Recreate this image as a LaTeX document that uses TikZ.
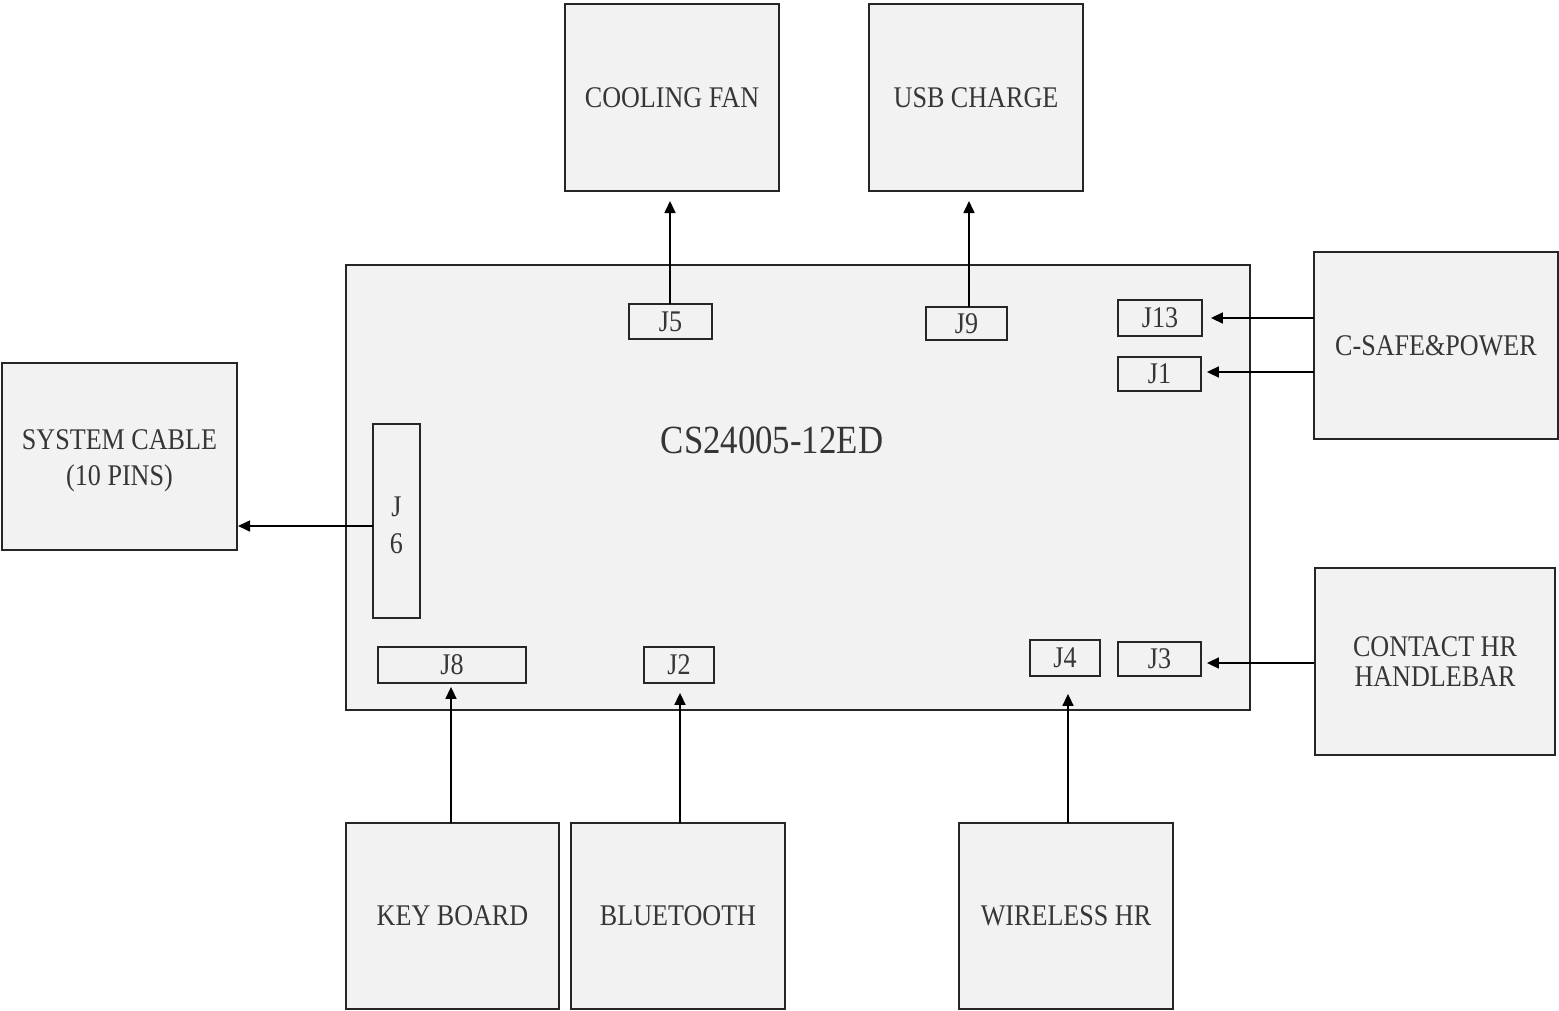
\documentclass[tikz,border=0pt]{standalone}
\usepackage{fontspec}
\setmainfont{Liberation Serif}[FakeStretch=0.87]
\usetikzlibrary{arrows.meta}
\definecolor{boxfill}{HTML}{F2F2F2}
\definecolor{boxline}{HTML}{262626}
\definecolor{txt}{HTML}{363636}
\tikzset{
  box/.style={draw=boxline, fill=boxfill, line width=1pt, inner sep=0pt, text=txt,
    font=\fontsize{15}{18}\selectfont, align=center},
  conn/.style={draw=boxline, fill=boxfill, line width=0.9pt, inner sep=0pt, text=txt,
    font=\fontsize{15}{18.5}\selectfont, align=center},
  lbl/.style={inner sep=0pt, text=txt, align=center},
  arr/.style={draw=black, line width=0.8pt, -{Triangle[length=6pt,width=5.5pt]}},
}
\begin{document}
\begin{tikzpicture}[x=0.5pt,y=-0.5pt]
\useasboundingbox (0,0) rectangle (1559,1011);
% outer boxes
\node[box, minimum width=107pt, minimum height=93.5pt] (fan) at (672,97.5) {COOLING FAN};
\node[box, minimum width=107pt, minimum height=93.5pt] (usb) at (976,97.5) {USB CHARGE};
\node[box, minimum width=452pt, minimum height=222.5pt] (board) at (798,487.5) {};
\node[box, minimum width=122pt, minimum height=93.5pt] (csafe) at (1436,345.5) {C-SAFE\&POWER};
\node[box, minimum width=117.5pt, minimum height=93.5pt] (sys) at (119.5,456.5) {};
\node[lbl, font=\fontsize{15}{18}\selectfont] (sysT) at (119.5,460.5) {SYSTEM CABLE\\(10 PINS)};
\node[box, minimum width=120pt, minimum height=93.5pt, font=\fontsize{15}{15}\selectfont] (contact) at (1435,661.5) {CONTACT HR\\HANDLEBAR};
\node[box, minimum width=106.5pt, minimum height=93pt] (key) at (452.5,916) {KEY BOARD};
\node[box, minimum width=107pt, minimum height=93pt] (bt) at (678,916) {BLUETOOTH};
\node[box, minimum width=107pt, minimum height=93pt] (wl) at (1066,916) {WIRELESS HR};
% board title
\node[lbl, font=\fontsize{20}{24}\selectfont] (title) at (772,440) {CS24005-12ED};
% connectors on board
\node[conn, minimum width=41.5pt, minimum height=17.5pt] (J5) at (670.5,321.5) {J5};
\node[conn, minimum width=40.5pt, minimum height=16.5pt] (J9) at (966.5,323.5) {J9};
\node[conn, minimum width=42pt, minimum height=18pt] (J13) at (1160,318) {J13};
\node[conn, minimum width=41.5pt, minimum height=17pt] (J1) at (1159.5,374) {J1};
\node[conn, minimum width=23.5pt, minimum height=97pt] (J6) at (396.5,521) {};
\node[lbl, font=\fontsize{15}{18.5}\selectfont] (J6T) at (396.5,525.5) {J\\6};
\node[conn, minimum width=74pt, minimum height=18pt] (J8) at (452,665) {J8};
\node[conn, minimum width=35pt, minimum height=18pt] (J2) at (679,665) {J2};
\node[conn, minimum width=35pt, minimum height=18pt] (J4) at (1065,658) {J4};
\node[conn, minimum width=41.5pt, minimum height=17pt] (J3) at (1159.5,659) {J3};
% arrows
\coordinate (a5) at (670,304);
\draw[arr, shorten >=4.5pt] (a5) -- (a5 |- fan.south);
\coordinate (a9) at (969,307);
\draw[arr, shorten >=4.5pt] (a9) -- (a9 |- usb.south);
\coordinate (a13) at (1314,318);
\draw[arr, shorten >=4pt] (a13) -- (a13 -| J13.east);
\coordinate (a1) at (1314,372);
\draw[arr, shorten >=2.5pt] (a1) -- (a1 -| J1.east);
\coordinate (a6) at (373,526);
\draw[arr] (a6) -- (a6 -| sys.east);
\coordinate (a8) at (451,823);
\draw[arr, shorten >=1.5pt] (a8) -- (a8 |- J8.south);
\coordinate (a2) at (680,823);
\draw[arr, shorten >=4.5pt] (a2) -- (a2 |- J2.south);
\coordinate (a4) at (1068,823);
\draw[arr, shorten >=8.5pt] (a4) -- (a4 |- J4.south);
\coordinate (a3) at (1314,663);
\draw[arr, shorten >=2.5pt] (a3) -- (a3 -| J3.east);
\end{tikzpicture}
\end{document}
